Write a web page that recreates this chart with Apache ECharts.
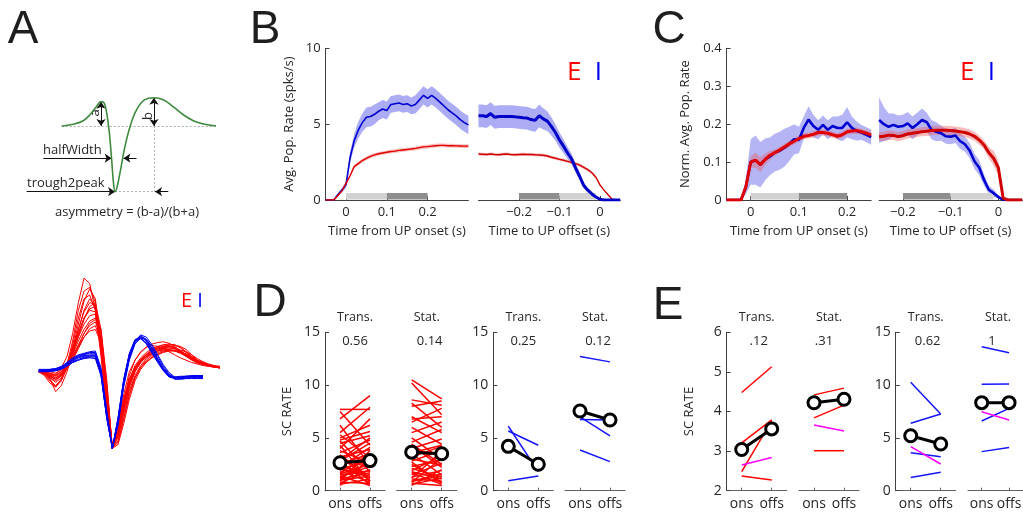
<!DOCTYPE html>
<html><head><meta charset="utf-8">
<script src="https://cdn.jsdelivr.net/npm/echarts@6/dist/echarts.min.js"></script>
<style>html,body{margin:0;padding:0;background:#fff}#c{width:1023px;height:512px}</style>
</head><body><div id="c"></div>
<script>
// ---------- DATA ----------
// Panel A (top) schematic waveform: time (a.u.) and normalised voltage
const schemT = [0,7.5,14,18.3,22.7,25.5,27.5,29.2,30.9,32.4,33.5,34.6,36,38.2,41,44.3,47.5,51.8,56.1,59.8,65.8,72.4,78.8,85.3,91.8,100];
const schemV = [0,0.025,0.08,0.17,0.3,0.37,0.35,0.19,-0.11,-0.52,-0.85,-1,-0.92,-0.66,-0.31,-0.01,0.2,0.36,0.42,0.43,0.4,0.29,0.17,0.08,0.03,0];
const peakA = [25.5, 0.37], peakB = [59.8, 0.43], trough = [34.6, -1], halfLevel = -0.49;
const halfWidthEdges = [32.4, 40.0], troughLabelStart = -22.7, halfLabelStart = -11.9;

// Panel A (bottom) waveforms: sample index and normalised voltage
const waveT = [0,1,2,3,4,5,6,7,8,9,10,11,12,13,14,15,16,17,18,19,20,21,22,23,24,25,26,27,28,29,30,31,32];
const waveE = [
 [0,-0.02,-0.05,-0.03,0.05,0.2,0.5,0.9,1.22,1.15,0.8,0.25,-0.5,-1,-0.7,-0.3,0,0.15,0.25,0.32,0.36,0.38,0.39,0.37,0.33,0.27,0.2,0.15,0.11,0.09,0.07,0.06,0.05],
 [0,-0.05,-0.15,-0.2,-0.1,0.1,0.4,0.8,1.05,1.1,0.9,0.3,-0.45,-1,-0.75,-0.4,-0.1,0.08,0.18,0.25,0.3,0.33,0.35,0.34,0.31,0.26,0.2,0.16,0.12,0.1,0.08,0.07,0.06],
 [0,-0.03,-0.1,-0.26,-0.18,0,0.25,0.55,0.8,0.95,0.85,0.35,-0.4,-1,-0.8,-0.45,-0.15,0.05,0.15,0.22,0.27,0.3,0.32,0.33,0.32,0.28,0.22,0.17,0.13,0.1,0.08,0.06,0.05],
 [0,0,-0.02,-0.05,0,0.1,0.3,0.5,0.7,0.82,0.85,0.5,-0.3,-1,-0.85,-0.55,-0.25,-0.05,0.08,0.17,0.23,0.28,0.3,0.31,0.3,0.27,0.22,0.18,0.14,0.11,0.09,0.07,0.06],
 [0,-0.02,-0.08,-0.12,-0.05,0.08,0.25,0.45,0.62,0.73,0.75,0.45,-0.3,-1,-0.8,-0.45,-0.15,0.04,0.14,0.2,0.24,0.27,0.28,0.28,0.27,0.24,0.2,0.16,0.12,0.1,0.08,0.06,0.05],
 [0,0,0,-0.02,0.02,0.08,0.2,0.35,0.5,0.6,0.65,0.45,-0.2,-1,-0.9,-0.6,-0.3,-0.08,0.06,0.15,0.21,0.25,0.27,0.28,0.27,0.25,0.21,0.17,0.13,0.1,0.08,0.06,0.05],
 [0,-0.03,-0.06,-0.08,-0.04,0.05,0.18,0.32,0.45,0.53,0.55,0.38,-0.2,-1,-0.85,-0.5,-0.2,0,0.12,0.19,0.24,0.27,0.29,0.29,0.28,0.25,0.21,0.17,0.13,0.1,0.08,0.07,0.06],
 [0,-0.02,-0.1,-0.2,-0.12,0.05,0.35,0.7,0.95,1.0,0.8,0.2,-0.55,-1,-0.7,-0.35,-0.1,0.05,0.13,0.19,0.24,0.28,0.31,0.33,0.34,0.33,0.29,0.22,0.15,0.11,0.08,0.06,0.05],
 [0,0,-0.03,-0.06,-0.02,0.08,0.22,0.4,0.55,0.66,0.7,0.5,-0.15,-1,-0.92,-0.62,-0.3,-0.08,0.05,0.13,0.19,0.23,0.26,0.27,0.27,0.26,0.23,0.19,0.15,0.12,0.09,0.07,0.06],
 [0,-0.01,-0.04,-0.08,-0.03,0.1,0.3,0.55,0.78,0.9,0.88,0.45,-0.35,-1,-0.78,-0.4,-0.12,0.06,0.16,0.23,0.28,0.31,0.33,0.33,0.31,0.27,0.22,0.17,0.13,0.1,0.08,0.06,0.05],
 [0,-0.02,-0.05,-0.1,-0.06,0.04,0.15,0.3,0.45,0.56,0.6,0.4,-0.25,-1,-0.8,-0.4,-0.05,0.15,0.26,0.32,0.34,0.33,0.3,0.26,0.22,0.18,0.15,0.12,0.1,0.08,0.07,0.06,0.05],
 [0,-0.04,-0.12,-0.18,-0.1,0.05,0.25,0.5,0.7,0.8,0.78,0.4,-0.35,-1,-0.82,-0.5,-0.2,0,0.12,0.2,0.26,0.3,0.33,0.35,0.35,0.32,0.26,0.2,0.15,0.11,0.09,0.07,0.06],
 [0,-0.03,-0.08,-0.14,-0.08,0.06,0.3,0.62,0.92,1.08,0.95,0.35,-0.45,-1,-0.76,-0.42,-0.14,0.04,0.15,0.22,0.28,0.32,0.35,0.36,0.35,0.31,0.25,0.19,0.14,0.11,0.09,0.07,0.06],
 [0,-0.01,-0.02,-0.04,0,0.06,0.18,0.33,0.5,0.63,0.68,0.55,-0.1,-1,-0.95,-0.68,-0.36,-0.12,0.03,0.12,0.18,0.22,0.25,0.27,0.28,0.28,0.26,0.22,0.17,0.13,0.1,0.08,0.07],
 [0,-0.02,-0.07,-0.1,-0.04,0.07,0.24,0.46,0.68,0.85,0.9,0.55,-0.25,-1,-0.84,-0.48,-0.18,0.02,0.14,0.22,0.27,0.3,0.31,0.31,0.3,0.27,0.23,0.18,0.14,0.11,0.09,0.07,0.06]
];
const waveI = [
 [0.02,0.02,0.02,0.03,0.06,0.1,0.16,0.2,0.22,0.24,0.24,0,-0.55,-1,-0.65,-0.15,0.2,0.4,0.46,0.4,0.28,0.15,0.03,-0.06,-0.08,-0.07,-0.06,-0.06,-0.06,-0.06],
 [0.01,0.01,0.01,0.02,0.05,0.09,0.14,0.18,0.2,0.21,0.2,-0.05,-0.6,-1,-0.6,-0.1,0.24,0.42,0.44,0.36,0.24,0.12,0.01,-0.07,-0.09,-0.08,-0.07,-0.07,-0.07,-0.07],
 [0,0,0,0.01,0.03,0.07,0.12,0.15,0.17,0.18,0.17,-0.05,-0.6,-1,-0.62,-0.12,0.22,0.4,0.43,0.38,0.27,0.15,0.03,-0.05,-0.07,-0.07,-0.06,-0.05,-0.05,-0.05],
 [0.02,0.02,0.03,0.04,0.07,0.12,0.18,0.22,0.24,0.26,0.27,0.05,-0.5,-1,-0.7,-0.2,0.15,0.36,0.44,0.42,0.33,0.2,0.07,-0.03,-0.08,-0.09,-0.08,-0.08,-0.08,-0.08],
 [0.01,0.01,0.01,0.02,0.04,0.08,0.13,0.16,0.19,0.2,0.21,0,-0.55,-1,-0.66,-0.18,0.18,0.38,0.45,0.41,0.3,0.17,0.05,-0.04,-0.1,-0.1,-0.09,-0.08,-0.08,-0.08],
 [0.02,0.02,0.02,0.03,0.05,0.1,0.15,0.19,0.21,0.22,0.22,-0.02,-0.58,-1,-0.63,-0.14,0.21,0.41,0.47,0.42,0.3,0.16,0.04,-0.05,-0.07,-0.06,-0.06,-0.06,-0.06,-0.06],
 [0.03,0.03,0.03,0.04,0.06,0.11,0.17,0.21,0.23,0.25,0.25,0.02,-0.52,-1,-0.68,-0.17,0.17,0.39,0.48,0.45,0.35,0.22,0.09,-0.01,-0.07,-0.09,-0.09,-0.09,-0.09,-0.09],
 [0,0,0.01,0.02,0.04,0.08,0.12,0.15,0.18,0.19,0.19,-0.04,-0.59,-1,-0.61,-0.11,0.23,0.41,0.43,0.37,0.25,0.13,0.02,-0.06,-0.08,-0.08,-0.07,-0.06,-0.06,-0.06]
];

// Panel B: firing rates (spks/s) around UP onset / offset
const tOn  = [-0.05,-0.04,-0.03,-0.02,-0.01,0,0.01,0.02,0.03,0.04,0.05,0.06,0.07,0.08,0.09,0.1,0.11,0.12,0.13,0.14,0.15,0.16,0.17,0.18,0.19,0.2,0.21,0.22,0.23,0.24,0.25,0.26,0.27,0.28,0.29,0.3];
const bOnI    = [0,0,0,0.35,0.65,1.0,2.8,3.9,4.6,5.1,5.45,5.5,5.65,5.85,6.0,5.9,6.3,6.35,6.4,6.3,6.35,6.2,6.3,6.6,6.9,6.7,6.9,6.7,6.45,6.2,5.95,5.75,5.55,5.3,5.1,4.95];
const bOnISem = [0,0,0,0.1,0.15,0.2,0.35,0.45,0.55,0.6,0.65,0.65,0.65,0.6,0.6,0.6,0.55,0.55,0.55,0.55,0.55,0.55,0.6,0.6,0.6,0.6,0.6,0.6,0.6,0.6,0.6,0.6,0.6,0.6,0.6,0.6];
const bOnE    = [0,0,0,0.3,0.6,1.1,1.6,2.2,2.4,2.6,2.75,2.88,2.97,3.05,3.1,3.15,3.2,3.22,3.27,3.3,3.33,3.36,3.4,3.45,3.5,3.52,3.55,3.58,3.6,3.6,3.58,3.58,3.57,3.56,3.55,3.55];
const bOnESem = [0,0,0,0.05,0.08,0.1,0.12,0.12,0.12,0.12,0.12,0.12,0.12,0.12,0.12,0.12,0.12,0.12,0.12,0.12,0.12,0.12,0.12,0.12,0.12,0.12,0.12,0.12,0.12,0.12,0.12,0.12,0.12,0.12,0.12,0.12];
const tOff = [-0.3,-0.29,-0.28,-0.27,-0.26,-0.25,-0.24,-0.23,-0.22,-0.21,-0.2,-0.19,-0.18,-0.17,-0.16,-0.15,-0.14,-0.13,-0.12,-0.11,-0.1,-0.09,-0.08,-0.07,-0.06,-0.05,-0.04,-0.03,-0.02,-0.01,0,0.01,0.02,0.03,0.04,0.05];
const bOffI    = [5.55,5.55,5.5,5.7,5.45,5.5,5.5,5.5,5.5,5.48,5.45,5.42,5.4,5.3,5.25,5.55,5.35,5.2,4.85,4.45,3.95,3.55,3.1,2.7,2.1,1.55,0.95,0.65,0.4,0.2,0.05,0,0,0,0,0];
const bOffISem = [0.75,0.75,0.75,0.75,0.75,0.75,0.75,0.75,0.75,0.75,0.75,0.75,0.75,0.75,0.75,0.75,0.7,0.65,0.6,0.55,0.5,0.45,0.4,0.35,0.3,0.25,0.2,0.15,0.1,0.08,0.05,0,0,0,0,0];
const bOffE    = [3.03,3.02,3.0,3.03,3.0,2.98,3.02,3.03,3.0,2.98,3.0,3.02,3.0,3.0,2.98,2.97,2.95,2.9,2.82,2.75,2.68,2.62,2.55,2.48,2.4,2.3,2.15,2.0,1.8,1.5,1.0,0.65,0.35,0.05,0,0];
const bOffESem = [0.1,0.1,0.1,0.1,0.1,0.1,0.1,0.1,0.1,0.1,0.1,0.1,0.1,0.1,0.1,0.1,0.1,0.1,0.1,0.1,0.1,0.1,0.1,0.1,0.1,0.1,0.1,0.1,0.1,0.1,0.08,0,0,0,0,0];

// Panel C: normalised rates
const tOnC = [-0.05,-0.04,-0.03,-0.02,-0.01,0,0.01,0.02,0.03,0.04,0.05,0.06,0.07,0.08,0.09,0.1,0.11,0.12,0.13,0.14,0.15,0.16,0.17,0.18,0.19,0.2,0.21,0.22,0.23,0.24,0.25];
const cOnI    = [0,0,0,0,0.035,0.1,0.105,0.093,0.107,0.115,0.125,0.13,0.138,0.148,0.16,0.158,0.19,0.212,0.195,0.185,0.198,0.185,0.195,0.19,0.19,0.205,0.19,0.182,0.178,0.172,0.166];
const cOnISem = [0,0,0,0,0.02,0.06,0.065,0.06,0.055,0.05,0.05,0.05,0.05,0.045,0.04,0.035,0.03,0.035,0.03,0.025,0.025,0.025,0.025,0.03,0.035,0.04,0.03,0.025,0.02,0.02,0.02];
const cOnE    = [0,0,0,0,0.035,0.1,0.105,0.093,0.107,0.118,0.125,0.132,0.14,0.148,0.155,0.162,0.168,0.17,0.173,0.178,0.178,0.176,0.172,0.168,0.172,0.18,0.182,0.183,0.18,0.176,0.171];
const cOnESem = [0,0,0,0,0.01,0.015,0.02,0.02,0.015,0.012,0.008,0.008,0.008,0.008,0.008,0.008,0.008,0.008,0.008,0.008,0.008,0.008,0.008,0.008,0.008,0.008,0.008,0.008,0.008,0.008,0.008];
const tOffC = [-0.25,-0.24,-0.23,-0.22,-0.21,-0.2,-0.19,-0.18,-0.17,-0.16,-0.15,-0.14,-0.13,-0.12,-0.11,-0.1,-0.09,-0.08,-0.07,-0.06,-0.05,-0.04,-0.03,-0.02,-0.01,0,0.01,0.02,0.03,0.04,0.05];
const cOffI    = [0.211,0.2,0.193,0.198,0.193,0.195,0.202,0.19,0.2,0.211,0.205,0.185,0.18,0.176,0.168,0.167,0.17,0.155,0.147,0.13,0.102,0.085,0.053,0.027,0.018,0.008,0,0,0,0,0];
const cOffISem = [0.06,0.045,0.035,0.03,0.03,0.03,0.03,0.03,0.03,0.03,0.025,0.025,0.025,0.02,0.02,0.02,0.02,0.02,0.02,0.02,0.02,0.02,0.015,0.01,0.01,0.005,0,0,0,0,0];
const cOffE    = [0.167,0.168,0.171,0.17,0.167,0.17,0.174,0.176,0.178,0.18,0.181,0.183,0.184,0.184,0.184,0.183,0.182,0.18,0.178,0.174,0.168,0.158,0.145,0.125,0.11,0.085,0.005,0,0,0,0];
const cOffESem = [0.012,0.012,0.012,0.012,0.012,0.012,0.012,0.012,0.012,0.012,0.012,0.012,0.012,0.012,0.012,0.012,0.012,0.012,0.012,0.012,0.012,0.012,0.012,0.015,0.02,0.02,0,0,0,0,0];

// Analysis windows (s)
const onTransWin = [0, 0.1], onStatWin = [0.1, 0.2];
const offStatWin = [-0.2, -0.1], offTransWin = [-0.1, -0.01];
const onTicks = [0, 0.1, 0.2], offTicks = [-0.2, -0.1, 0];

// Panel D: SC rates, onset vs offset
const conds = ['ons', 'offs'];
const dTransEOns  = [7.7,7.5,6.8,6.2,5.5,5.3,5.0,4.7,4.5,4.3,4.0,3.8,3.6,3.4,3.2,3.0,2.9,2.7,2.5,2.4,2.2,2.0,1.9,1.7,1.5,1.4,1.2,1.0,0.9,0.8,0.7,0.6,2.8,3.3,1.6,1.1,0.5,4.8,2.1,1.3];
const dTransEOffs = [7.7,4.3,9.0,2.4,7.9,3.1,6.2,1.8,5.2,0.9,6.8,2.6,4.8,1.2,3.9,2.2,5.0,0.6,3.5,1.5,4.1,2.9,0.8,3.3,1.9,0.5,2.7,1.4,3.8,0.7,2.0,1.1,4.5,0.9,2.5,1.7,3.0,5.6,1.3,2.3];
const dStatEOns   = [10.5,10.2,8.6,8.3,8.0,7.0,6.8,6.0,5.5,5.0,4.6,4.3,4.0,3.8,3.5,3.2,3.0,2.8,2.5,2.3,2.1,1.9,1.7,1.5,1.3,1.1,0.9,0.8,0.7,0.6,0.5,2.7,3.6,1.8,4.4,1.2,6.5,0.9];
const dStatEOffs  = [8.7,7.2,8.1,6.0,8.5,5.5,7.0,4.4,6.5,3.0,5.8,2.2,4.9,3.5,1.5,4.2,2.4,3.8,0.8,2.9,1.3,3.3,0.6,2.6,1.9,0.9,1.6,3.1,0.5,1.2,2.0,0.7,4.3,1.1,2.5,3.7,7.8,1.4];
const dTransIOns  = [6.1,5.65,0.95];
const dTransIOffs = [1.8,4.3,1.4];
const dStatIOns   = [12.7,6.75,7.0,3.85];
const dStatIOffs  = [12.2,6.7,5.2,2.75];
const dMeanTransE = [2.65,2.85], dMeanStatE = [3.65,3.5], dMeanTransI = [4.2,2.5], dMeanStatI = [7.55,6.7];
const dPvals = ['0.56','0.14','0.25','0.12'];

// Panel E
const eTransEOns  = [4.48,3.21,2.48,2.65,2.37];
const eTransEOffs = [5.13,3.79,3.77,2.84,2.27];
const eTransEType = ['E','E','E','M','E'];
const eStatEOns   = [4.42,3.84,3.66,3.01];
const eStatEOffs  = [4.59,4.16,3.51,3.01];
const eStatEType  = ['E','E','M','E'];
const eTransIOns  = [10.26,6.38,4.17,3.6,1.26];
const eTransIOffs = [7.26,7.26,2.53,3.22,1.74];
const eTransIType = ['I','I','M','I','I'];
const eStatIOns   = [13.64,10.07,7.48,6.6,3.7];
const eStatIOffs  = [13.07,10.1,6.7,7.8,4.1];
const eStatIType  = ['I','I','M','I','I'];
const eMeanTransE = [3.04,3.56], eMeanStatE = [4.22,4.31], eMeanTransI = [5.2,4.42], eMeanStatI = [8.34,8.34];
const ePvals = ['.12','.31','0.62','1'];
const subTitles = ['Trans.','Stat.','Trans.','Stat.'];

// ---------- STYLE / LAYOUT ----------
const FONT = 'Open Sans';
const RED = '#ff0000', BLUE = '#0000f0', MAG = '#ff00ff';
const TYPE_COLOR = {E: RED, I: '#1414ff', M: MAG};
const AX = '#404040', TXT = '#262626';
const grids = [
  {left:15.4, top:93.1, width:200.6, height:105.1},
  {left:38.7, top:272, width:181.3, height:184},
  {left:325.6, top:48.3, width:142.8, height:151.7},
  {left:478.5, top:48.3, width:141.7, height:151.7},
  {left:726.6, top:48.3, width:144.6, height:151.7},
  {left:879.1, top:48.3, width:143.1, height:151.7},
  {left:325, top:332.3, width:60, height:158.4},
  {left:396.7, top:332.3, width:60, height:158.4},
  {left:493.3, top:332.3, width:60, height:158.4},
  {left:565, top:332.3, width:60, height:158.4},
  {left:726.7, top:332.3, width:60, height:158.4},
  {left:799, top:332.3, width:60, height:158.4},
  {left:895.7, top:332.3, width:60, height:158.4},
  {left:968, top:332.3, width:60, height:158.4}
];

const fmtT = v => (v < 0 ? '\u2212' : '') + (+Math.abs(v).toFixed(2));
function hiddenAx(gi, min, max) { return {gridIndex:gi, type:'value', min, max, show:false}; }
function timeX(gi, min, max, ticks, name) {
  return {gridIndex:gi, type:'value', min, max, name, nameLocation:'middle', nameGap:25,
    nameTextStyle:{fontFamily:FONT, fontSize:13, color:TXT},
    axisLine:{show:true, onZero:false, lineStyle:{color:AX}},
    axisTick:{show:true, inside:true, length:4, customValues:ticks, lineStyle:{color:AX}},
    axisLabel:{customValues:ticks, formatter:fmtT, fontFamily:FONT, fontSize:13, color:TXT, margin:6},
    splitLine:{show:false}};
}
function valY(gi, min, max, interval, name, nameGap, fmt) {
  return {gridIndex:gi, type:'value', min, max, interval, name, nameLocation:'middle', nameGap,
    nameTextStyle:{fontFamily:FONT, fontSize:13, color:TXT},
    axisLine:{show:true, onZero:false, lineStyle:{color:AX}},
    axisTick:{show:true, inside:true, length:4, lineStyle:{color:AX}},
    axisLabel:{fontFamily:FONT, fontSize:13, color:TXT, margin:5, formatter:fmt},
    splitLine:{show:false}};
}
function scY(gi, min, max, interval, name, show) {
  if (!show) return {gridIndex:gi, type:'value', min, max, show:false};
  return {gridIndex:gi, type:'value', min, max, interval, name, nameLocation:'middle', nameGap:31,
    nameTextStyle:{fontFamily:FONT, fontSize:13, color:TXT},
    axisLine:{show:true, onZero:false, lineStyle:{color:AX}},
    axisTick:{show:true, inside:true, length:4, lineStyle:{color:AX}},
    axisLabel:{fontFamily:FONT, fontSize:14, color:TXT, margin:5},
    splitLine:{show:false}};
}
function catX(gi) {
  return {gridIndex:gi, type:'category', data:conds, boundaryGap:true,
    axisLine:{show:true, onZero:false, lineStyle:{color:'#606060'}},
    axisTick:{show:true, inside:true, length:3, alignWithLabel:true, interval:0, lineStyle:{color:'#606060'}},
    axisLabel:{fontFamily:FONT, fontSize:14, color:TXT, margin:6, interval:0, hideOverlap:false}};
}

const xAxis = [
  hiddenAx(0, -30, 100), hiddenAx(1, 0, 32),
  timeX(2, -0.05, 0.3, onTicks, 'Time from UP onset (s)'),
  timeX(3, -0.3, 0.05, offTicks, 'Time to UP offset (s)'),
  timeX(4, -0.05, 0.25, onTicks, 'Time from UP onset (s)'),
  timeX(5, -0.25, 0.05, offTicks, 'Time to UP offset (s)'),
  catX(6), catX(7), catX(8), catX(9), catX(10), catX(11), catX(12), catX(13)
];
const yAxis = [
  hiddenAx(0, -1.1, 0.5), hiddenAx(1, -1.1, 1.3),
  valY(2, 0, 10, 5, 'Avg. Pop. Rate (spks/s)', 30),
  hiddenAx(3, 0, 10),
  valY(4, 0, 0.4, 0.1, 'Norm. Avg. Pop. Rate', 35, v => v === 0 ? '0' : v.toFixed(1)),
  hiddenAx(5, 0, 0.4),
  scY(6, 0, 15, 5, 'SC RATE', true), scY(7, 0, 15, 5, '', false),
  scY(8, 0, 15, 5, '', true), scY(9, 0, 15, 5, '', false),
  scY(10, 2, 6, 1, 'SC RATE', true), scY(11, 2, 6, 1, '', false),
  scY(12, 0, 15, 5, '', true), scY(13, 0, 15, 5, '', false)
];

const series = [];
// ---- Panel A top schematic
const arrowLine = (p, q, s1, s2) => [
  {coord:p, symbol:s1, symbolSize:7},
  {coord:q, symbol:s2, symbolSize:7, lineStyle:{color:'#111', width:1, type:'solid'}}];
const dotLine = (p, q) => [
  {coord:p, symbol:'none'},
  {coord:q, symbol:'none', lineStyle:{color:'#b0b0b0', width:1, type:[2,2]}}];
series.push({type:'line', xAxisIndex:0, yAxisIndex:0, data:schemT.map((t,i)=>[t, schemV[i]]),
  symbol:'none', smooth:0.4, lineStyle:{color:'#3f8a3f', width:1.6}, z:3,
  markLine:{silent:true, animation:false, label:{show:false}, z:2,
    data:[
      dotLine([schemT[0],0],[schemT[schemT.length-1],0]),
      dotLine([peakB[0],0],[peakB[0],trough[1]]),
      dotLine([trough[0],trough[1]],[68,trough[1]]),
      arrowLine([peakA[0],0],[peakA[0],peakA[1]],'arrow','arrow'),
      arrowLine([peakB[0],0],[peakB[0],peakB[1]],'arrow','arrow'),
      arrowLine([halfLabelStart,halfLevel],[halfWidthEdges[0],halfLevel],'none','arrow'),
      arrowLine([halfWidthEdges[1]+8.5,halfLevel],[halfWidthEdges[1],halfLevel],'none','arrow'),
      arrowLine([troughLabelStart,trough[1]],[trough[0],trough[1]],'none','arrow'),
      arrowLine([peakB[0]+9.3,trough[1]],[peakB[0]+0.7,trough[1]],'none','arrow')
    ].map(d => { d[0].lineStyle = d[1].lineStyle; return d; })}
});
// ---- Panel A bottom waveforms
waveE.forEach(w => series.push({type:'line', xAxisIndex:1, yAxisIndex:1, symbol:'none',
  data:w.map((v,i)=>[waveT[i], v]), lineStyle:{color:RED, width:1}, z:2}));
waveI.forEach(w => series.push({type:'line', xAxisIndex:1, yAxisIndex:1, symbol:'none',
  data:w.map((v,i)=>[waveT[i], v]), lineStyle:{color:BLUE, width:1}, z:3}));

// ---- bands, lines, epochs
function band(gi, t, m, s, fill) {
  return {type:'custom', xAxisIndex:gi, yAxisIndex:gi, silent:true, clip:true, z:1,
    data:[[t[0], m[0]]],
    renderItem:(p, api) => {
      const pts = [];
      for (let i = 0; i < t.length; i++) pts.push(api.coord([t[i], m[i] + s[i]]));
      for (let i = t.length - 1; i >= 0; i--) pts.push(api.coord([t[i], Math.max(0, m[i] - s[i])]));
      return {type:'polygon', shape:{points:pts}, style:{fill}};
    }};
}
function curve(gi, t, m, color, width) {
  return {type:'line', xAxisIndex:gi, yAxisIndex:gi, symbol:'none', data:t.map((x,i)=>[x, m[i]]),
    lineStyle:{color, width}, z:4};
}
function epoch(gi, win, fill) {
  return {type:'custom', xAxisIndex:gi, yAxisIndex:gi, silent:true, z:2,
    data:[[win[0], win[1]]], encode:{x:[0,1]},
    renderItem:(p, api) => {
      const a = api.coord([api.value(0), 0]), b = api.coord([api.value(1), 0]);
      return {type:'rect', shape:{x:a[0], y:a[1]-7, width:b[0]-a[0], height:6.5}, style:{fill}};
    }};
}
const LIGHT = '#d2d2d2', DARK = '#8e8e8e';
// B
series.push(band(2, tOn, bOnI, bOnISem, 'rgba(90,90,235,0.5)'));
series.push(band(2, tOn, bOnE, bOnESem, 'rgba(235,90,90,0.4)'));
series.push(epoch(2, onTransWin, LIGHT), epoch(2, onStatWin, DARK));
series.push(curve(2, tOn, bOnI, '#0000d0', 1.6), curve(2, tOn, bOnE, '#e00000', 1.4));
series.push(band(3, tOff, bOffI, bOffISem, 'rgba(90,90,235,0.5)'));
series.push(band(3, tOff, bOffE, bOffESem, 'rgba(235,90,90,0.4)'));
series.push(epoch(3, offStatWin, DARK), epoch(3, offTransWin, LIGHT));
series.push(curve(3, tOff, bOffE, '#d00000', 1.4), curve(3, tOff, bOffI, '#0000c8', 3));
// C
series.push(band(4, tOnC, cOnI, cOnISem, 'rgba(90,90,235,0.45)'));
series.push(band(4, tOnC, cOnE, cOnESem, 'rgba(235,90,90,0.4)'));
series.push(epoch(4, onTransWin, LIGHT), epoch(4, onStatWin, DARK));
series.push(curve(4, tOnC, cOnI, '#0000d0', 2.6), curve(4, tOnC, cOnE, '#e00000', 3));
series.push(band(5, tOffC, cOffI, cOffISem, 'rgba(90,90,235,0.45)'));
series.push(band(5, tOffC, cOffE, cOffESem, 'rgba(235,90,90,0.4)'));
series.push(epoch(5, offStatWin, DARK), epoch(5, offTransWin, LIGHT));
series.push(curve(5, tOffC, cOffI, '#0000d0', 2.6), curve(5, tOffC, cOffE, '#d00000', 3));

// ---- D / E pair lines
function pairs(gi, ons, offs, types, want, color) {
  const rows = [];
  ons.forEach((v, i) => { if (!types || types[i] === want) rows.push([0, v, offs[i]]); });
  return {type:'custom', xAxisIndex:gi, yAxisIndex:gi, silent:true, z:3, data:rows,
    encode:{x:0, y:[1,2]},
    renderItem:(p, api) => {
      const a = api.coord([0, api.value(1)]), b = api.coord([1, api.value(2)]);
      return {type:'line', shape:{x1:a[0], y1:a[1], x2:b[0], y2:b[1]}, style:{stroke:color, lineWidth:1.5}};
    }};
}
function meanPair(gi, m) {
  return {type:'line', xAxisIndex:gi, yAxisIndex:gi, data:m, symbol:'circle', symbolSize:12, showSymbol:true, z:6,
    itemStyle:{color:'#fff', borderColor:'#000', borderWidth:3}, lineStyle:{color:'#000', width:3}};
}
series.push(pairs(6, dTransEOns, dTransEOffs, null, null, RED), meanPair(6, dMeanTransE));
series.push(pairs(7, dStatEOns, dStatEOffs, null, null, RED), meanPair(7, dMeanStatE));
series.push(pairs(8, dTransIOns, dTransIOffs, null, null, '#1414ff'), meanPair(8, dMeanTransI));
series.push(pairs(9, dStatIOns, dStatIOffs, null, null, '#1414ff'), meanPair(9, dMeanStatI));
[[10, eTransEOns, eTransEOffs, eTransEType, eMeanTransE],
 [11, eStatEOns, eStatEOffs, eStatEType, eMeanStatE],
 [12, eTransIOns, eTransIOffs, eTransIType, eMeanTransI],
 [13, eStatIOns, eStatIOffs, eStatIType, eMeanStatI]].forEach(([gi, on, off, ty, mn]) => {
  ['E','I','M'].forEach(k => { if (ty.includes(k)) series.push(pairs(gi, on, off, ty, k, TYPE_COLOR[k])); });
  series.push(meanPair(gi, mn));
});

// ---------- TEXT ----------
const txt = (x, y, text, size, color, align, extra) => Object.assign({type:'text', x, y, silent:true,
  style:{text, fontFamily:FONT, fontSize:size, fill:color || TXT, align:align || 'center', verticalAlign:'middle'}}, extra || {});
const letter = (x, y, t) => ({type:'text', x, y, silent:true,
  style:{text:t, fontFamily:'Liberation Sans', fontSize:46, fill:'#1e1e1e', align:'center', verticalAlign:'middle'}});
const graphic = [
  letter(23, 30, 'A'), letter(265, 30, 'B'), letter(669, 30, 'C'), letter(270, 303, 'D'), letter(668, 306, 'E'),
  txt(43, 150, 'halfWidth', 13, TXT, 'left'),
  txt(27, 183, 'trough2peak', 13, TXT, 'left'),
  txt(127, 212, 'asymmetry = (b-a)/(b+a)', 13, TXT, 'center'),
  txt(95, 113, 'a', 13, TXT, 'center', {rotation: Math.PI/2}),
  txt(148, 116, 'b', 13, TXT, 'center', {rotation: Math.PI/2}),
  txt(181, 301, 'E', 20, RED, 'left'), txt(200, 301, 'I', 20, BLUE, 'center'),
  txt(567, 73, 'E', 26, RED, 'left'), txt(598.5, 73, 'I', 26, BLUE, 'center'),
  txt(960, 73, 'E', 26, RED, 'left'), txt(991.5, 73, 'I', 26, BLUE, 'center')
];
const subCentres = [355, 426.7, 523.3, 595, 756.7, 829, 925.7, 998];
subCentres.forEach((cx, i) => graphic.push(txt(cx, 317, subTitles[i % 4], 12.5)));
dPvals.forEach((p, i) => graphic.push(txt(subCentres[i] + (i === 1 || i === 3 ? 3 : 0), 341, p, 13)));
ePvals.forEach((p, i) => graphic.push(txt(subCentres[4 + i] + (i === 1 ? -5 : i === 3 ? -6 : 2), 341, p, 13)));

const chart = echarts.init(document.getElementById('c'), null, {renderer:'canvas'});
chart.setOption({animation:false, backgroundColor:'#fff', textStyle:{fontFamily:FONT},
  grid:grids, xAxis, yAxis, series, graphic});
</script></body></html>
